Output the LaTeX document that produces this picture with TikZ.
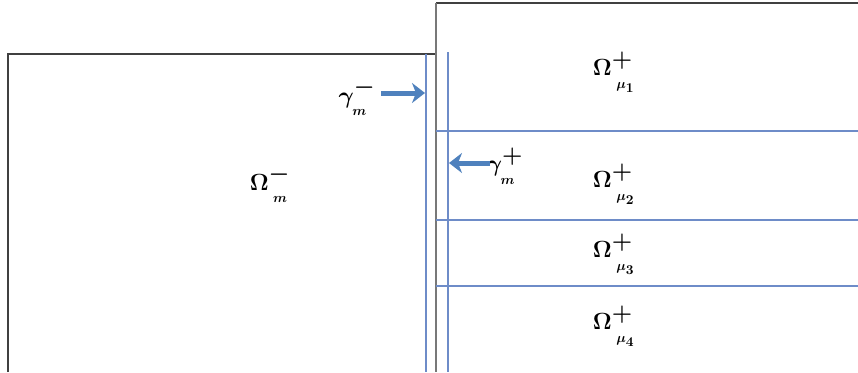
\documentclass[tikz,border=0pt]{standalone}
\usepackage{amsmath,bm}
\usetikzlibrary{arrows.meta}
\definecolor{lineblue}{RGB}{110,140,200}
\definecolor{arrowblue}{RGB}{79,129,189}
\definecolor{edgegray}{RGB}{120,120,120}
\tikzset{
  bline/.style={draw=lineblue, line width=1.3pt},
  gline/.style={draw=edgegray, line width=1.3pt},
  kline/.style={draw=black!75, line width=1.1pt},
  bigarrow/.style={draw=arrowblue, line width=5pt, -{Stealth[length=13pt,width=20pt,inset=4pt]}},
  lab/.style={inner sep=0pt, font=\LARGE, scale=1.35}
}
\newcommand{\subl}[1]{\raisebox{-5pt}{$\scriptscriptstyle\bm{#1}$}}
\newcommand{\supl}[1]{\raisebox{1pt}{$\bm{#1}$}}
\begin{document}
\begin{tikzpicture}[x=1pt,y=-1pt]
\useasboundingbox (0,0) rectangle (858,372);
% left domain
\draw[kline] (8,372) -- (8,54) -- (436,54);
% right domain top
\draw[kline] (436,3) -- (858,3);
% interface gray
\draw[gline] (436,3) -- (436,372);
% blue vertical lines
\draw[bline] (426,54) -- (426,372);
\draw[bline] (448,52) -- (448,372);
% horizontal subdivisions
\draw[bline] (436,131) -- (858,131);
\draw[bline] (436,220) -- (858,220);
\draw[bline] (436,286) -- (858,286);
% labels
\node[lab] (om) at (270,184) {$\bm{\Omega}^{\supl{-}}_{\;\subl{m}}$};
\node[lab] (o1) at (614,72) {$\bm{\Omega}^{\supl{+}}_{\;\subl{\mu_1}}$};
\node[lab] (o2) at (614,184) {$\bm{\Omega}^{\supl{+}}_{\;\subl{\mu_2}}$};
\node[lab] (o3) at (614,254) {$\bm{\Omega}^{\supl{+}}_{\;\subl{\mu_3}}$};
\node[lab] (o4) at (614,326) {$\bm{\Omega}^{\supl{+}}_{\;\subl{\mu_4}}$};
\node[lab] (gm) at (357,97) {$\bm{\gamma}^{\supl{-}}_{\subl{m}}$};
\node[lab] (gp) at (505,166) {$\bm{\gamma}^{\supl{+}}_{\subl{m}}$};
% arrows
\coordinate (a1s) at (381,93);
\coordinate (a1e) at (425,93);
\coordinate (a2s) at (490,163);
\coordinate (a2e) at (449,163);
\draw[bigarrow] (a1s) -- (a1e);
\draw[bigarrow] (a2s) -- (a2e);
\end{tikzpicture}
\end{document}
